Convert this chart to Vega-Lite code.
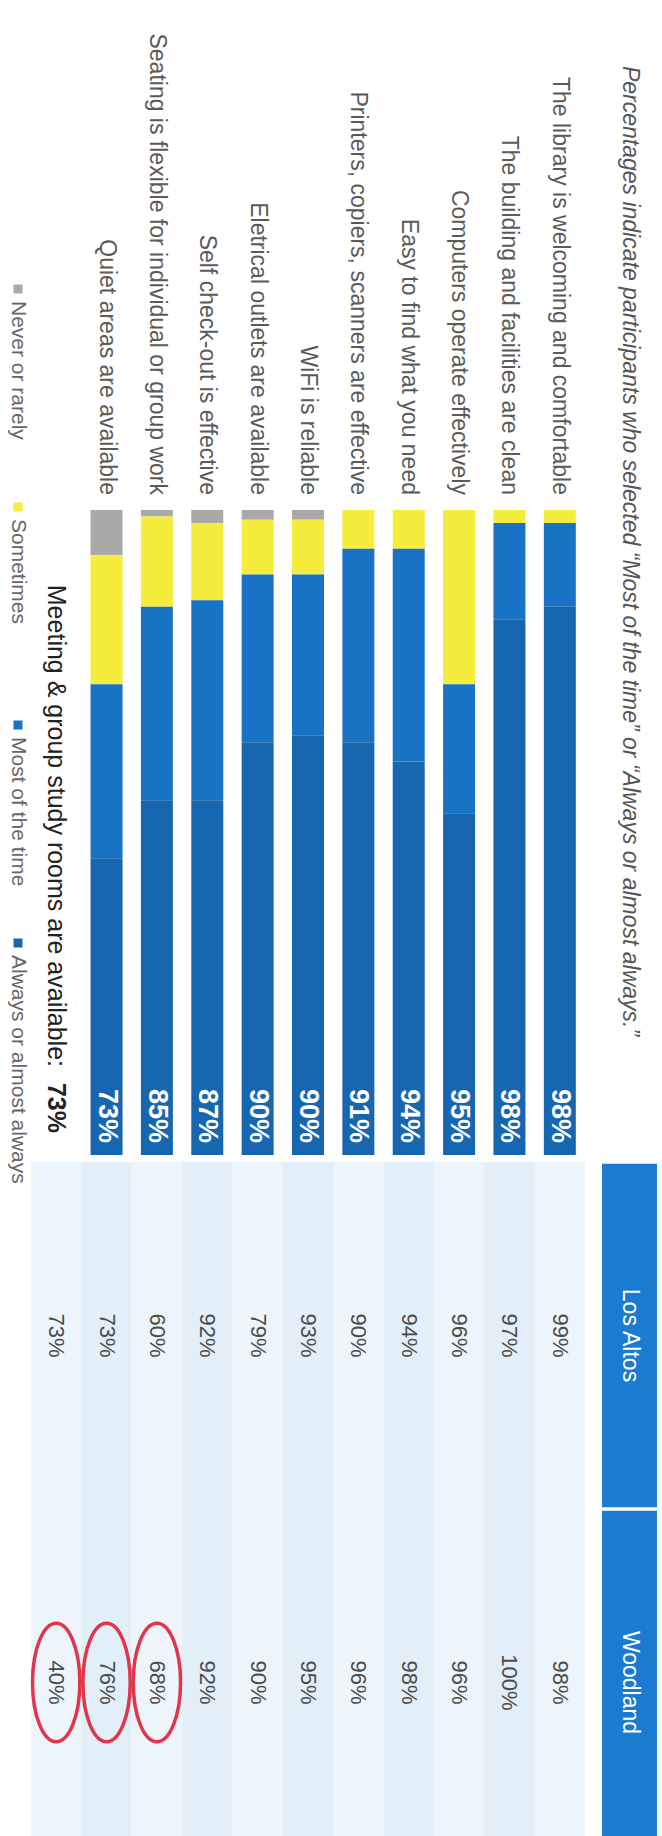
{
  "$schema": "https://vega.github.io/schema/vega-lite/v6.json",
  "width": 662,
  "height": 1836,
  "padding": 0,
  "autosize": {"type": "none"},
  "background": "white",
  "config": {"view": {"stroke": null}},
  "datasets": {
    "segments": [
      {"item": "Quiet areas are available", "response": "Never or rarely", "pct": 7, "rank": 1},
      {"item": "Quiet areas are available", "response": "Sometimes", "pct": 20, "rank": 2},
      {"item": "Quiet areas are available", "response": "Most of the time", "pct": 27, "rank": 3},
      {"item": "Quiet areas are available", "response": "Always or almost always", "pct": 46, "rank": 4},
      {"item": "Seating is flexible for individual or group work", "response": "Never or rarely", "pct": 1, "rank": 1},
      {"item": "Seating is flexible for individual or group work", "response": "Sometimes", "pct": 14, "rank": 2},
      {"item": "Seating is flexible for individual or group work", "response": "Most of the time", "pct": 30, "rank": 3},
      {"item": "Seating is flexible for individual or group work", "response": "Always or almost always", "pct": 55, "rank": 4},
      {"item": "Self check-out is effective", "response": "Never or rarely", "pct": 2, "rank": 1},
      {"item": "Self check-out is effective", "response": "Sometimes", "pct": 12, "rank": 2},
      {"item": "Self check-out is effective", "response": "Most of the time", "pct": 31, "rank": 3},
      {"item": "Self check-out is effective", "response": "Always or almost always", "pct": 55, "rank": 4},
      {"item": "Eletrical outlets are available", "response": "Never or rarely", "pct": 1.5, "rank": 1},
      {"item": "Eletrical outlets are available", "response": "Sometimes", "pct": 8.5, "rank": 2},
      {"item": "Eletrical outlets are available", "response": "Most of the time", "pct": 26, "rank": 3},
      {"item": "Eletrical outlets are available", "response": "Always or almost always", "pct": 64, "rank": 4},
      {"item": "WiFi is reliable", "response": "Never or rarely", "pct": 1.5, "rank": 1},
      {"item": "WiFi is reliable", "response": "Sometimes", "pct": 8.5, "rank": 2},
      {"item": "WiFi is reliable", "response": "Most of the time", "pct": 25, "rank": 3},
      {"item": "WiFi is reliable", "response": "Always or almost always", "pct": 65, "rank": 4},
      {"item": "Printers, copiers, scanners are effective", "response": "Never or rarely", "pct": 0, "rank": 1},
      {"item": "Printers, copiers, scanners are effective", "response": "Sometimes", "pct": 6, "rank": 2},
      {"item": "Printers, copiers, scanners are effective", "response": "Most of the time", "pct": 30, "rank": 3},
      {"item": "Printers, copiers, scanners are effective", "response": "Always or almost always", "pct": 64, "rank": 4},
      {"item": "Easy to find what you need", "response": "Never or rarely", "pct": 0, "rank": 1},
      {"item": "Easy to find what you need", "response": "Sometimes", "pct": 6, "rank": 2},
      {"item": "Easy to find what you need", "response": "Most of the time", "pct": 33, "rank": 3},
      {"item": "Easy to find what you need", "response": "Always or almost always", "pct": 61, "rank": 4},
      {"item": "Computers operate effectively", "response": "Never or rarely", "pct": 0, "rank": 1},
      {"item": "Computers operate effectively", "response": "Sometimes", "pct": 27, "rank": 2},
      {"item": "Computers operate effectively", "response": "Most of the time", "pct": 20, "rank": 3},
      {"item": "Computers operate effectively", "response": "Always or almost always", "pct": 53, "rank": 4},
      {"item": "The building and facilities are clean", "response": "Never or rarely", "pct": 0, "rank": 1},
      {"item": "The building and facilities are clean", "response": "Sometimes", "pct": 2, "rank": 2},
      {"item": "The building and facilities are clean", "response": "Most of the time", "pct": 15, "rank": 3},
      {"item": "The building and facilities are clean", "response": "Always or almost always", "pct": 83, "rank": 4},
      {"item": "The library is welcoming and comfortable", "response": "Never or rarely", "pct": 0, "rank": 1},
      {"item": "The library is welcoming and comfortable", "response": "Sometimes", "pct": 2, "rank": 2},
      {"item": "The library is welcoming and comfortable", "response": "Most of the time", "pct": 13, "rank": 3},
      {"item": "The library is welcoming and comfortable", "response": "Always or almost always", "pct": 85, "rank": 4}
    ],
    "items": [
      {"item": "Meeting & group study rooms are available:", "label": "73%"},
      {"item": "Quiet areas are available", "label": "73%"},
      {"item": "Seating is flexible for individual or group work", "label": "85%"},
      {"item": "Self check-out is effective", "label": "87%"},
      {"item": "Eletrical outlets are available", "label": "90%"},
      {"item": "WiFi is reliable", "label": "90%"},
      {"item": "Printers, copiers, scanners are effective", "label": "91%"},
      {"item": "Easy to find what you need", "label": "94%"},
      {"item": "Computers operate effectively", "label": "95%"},
      {"item": "The building and facilities are clean", "label": "98%"},
      {"item": "The library is welcoming and comfortable", "label": "98%"}
    ],
    "table": [
      {"item": "Meeting & group study rooms are available:", "site": "Los Altos", "value": "73%"},
      {"item": "Quiet areas are available", "site": "Los Altos", "value": "73%"},
      {"item": "Seating is flexible for individual or group work", "site": "Los Altos", "value": "60%"},
      {"item": "Self check-out is effective", "site": "Los Altos", "value": "92%"},
      {"item": "Eletrical outlets are available", "site": "Los Altos", "value": "79%"},
      {"item": "WiFi is reliable", "site": "Los Altos", "value": "93%"},
      {"item": "Printers, copiers, scanners are effective", "site": "Los Altos", "value": "90%"},
      {"item": "Easy to find what you need", "site": "Los Altos", "value": "94%"},
      {"item": "Computers operate effectively", "site": "Los Altos", "value": "96%"},
      {"item": "The building and facilities are clean", "site": "Los Altos", "value": "97%"},
      {"item": "The library is welcoming and comfortable", "site": "Los Altos", "value": "99%"},
      {"item": "Meeting & group study rooms are available:", "site": "Woodland", "value": "40%"},
      {"item": "Quiet areas are available", "site": "Woodland", "value": "76%"},
      {"item": "Seating is flexible for individual or group work", "site": "Woodland", "value": "68%"},
      {"item": "Self check-out is effective", "site": "Woodland", "value": "92%"},
      {"item": "Eletrical outlets are available", "site": "Woodland", "value": "90%"},
      {"item": "WiFi is reliable", "site": "Woodland", "value": "95%"},
      {"item": "Printers, copiers, scanners are effective", "site": "Woodland", "value": "96%"},
      {"item": "Easy to find what you need", "site": "Woodland", "value": "98%"},
      {"item": "Computers operate effectively", "site": "Woodland", "value": "96%"},
      {"item": "The building and facilities are clean", "site": "Woodland", "value": "100%"},
      {"item": "The library is welcoming and comfortable", "site": "Woodland", "value": "98%"}
    ],
    "sites": [{"site": "Los Altos"}, {"site": "Woodland"}],
    "legend": [
      {"response": "Never or rarely"},
      {"response": "Sometimes"},
      {"response": "Most of the time"},
      {"response": "Always or almost always"}
    ],
    "title": [
      {"text": "Percentages indicate participants who selected “Most of the time” or “Always or almost always.”"}
    ]
  },
  "layer": [
    {
      "encoding": {
        "x": {
          "field": "item", "type": "nominal", "axis": null,
          "scale": {
            "domain": ["Meeting & group study rooms are available:", "Quiet areas are available", "Seating is flexible for individual or group work", "Self check-out is effective", "Eletrical outlets are available", "WiFi is reliable", "Printers, copiers, scanners are effective", "Easy to find what you need", "Computers operate effectively", "The building and facilities are clean", "The library is welcoming and comfortable"],
            "range": [31, 585], "paddingInner": 0.365, "paddingOuter": 0.1825
          }
        }
      },
      "layer": [
        {
          "data": {"name": "segments"},
          "mark": {"type": "bar"},
          "encoding": {
            "y": {"field": "pct", "type": "quantitative", "stack": "zero", "axis": null, "scale": {"domain": [0, 100], "range": [510, 1155], "nice": false, "zero": false}},
            "color": {
              "field": "response", "type": "nominal", "legend": null,
              "scale": {"domain": ["Never or rarely", "Sometimes", "Most of the time", "Always or almost always"], "range": ["#a9a9a9", "#f5ec3b", "#1873c4", "#1666b0"]}
            },
            "order": {"field": "rank", "type": "quantitative"}
          }
        },
        {
          "data": {"name": "items"},
          "transform": [{"filter": {"not": {"field": "item", "equal": "Meeting & group study rooms are available:"}}}],
          "mark": {"type": "text", "angle": 90, "align": "right", "baseline": "middle", "dx": -12, "font": "Liberation Sans", "fontWeight": "bold", "fontSize": 27, "color": "white"},
          "encoding": {
            "y": {"datum": 100, "type": "quantitative", "axis": null, "scale": {"domain": [0, 100], "range": [510, 1155], "nice": false, "zero": false}},
            "text": {"field": "label"}
          }
        },
        {
          "data": {"name": "items"},
          "transform": [{"filter": {"not": {"field": "item", "equal": "Meeting & group study rooms are available:"}}}],
          "mark": {"type": "text", "angle": 90, "align": "right", "baseline": "middle", "dx": -15, "font": "Liberation Sans", "fontSize": 23, "color": "#5a5a5a"},
          "encoding": {
            "y": {"datum": 0, "type": "quantitative", "axis": null, "scale": {"domain": [0, 100], "range": [510, 1155], "nice": false, "zero": false}},
            "text": {"field": "item"}
          }
        },
        {
          "data": {"name": "items"},
          "transform": [{"filter": {"field": "item", "equal": "Meeting & group study rooms are available:"}}],
          "mark": {"type": "text", "angle": 90, "align": "right", "baseline": "middle", "dx": -88, "font": "Liberation Sans", "fontSize": 25, "color": "#222222"},
          "encoding": {
            "y": {"datum": 100, "type": "quantitative", "axis": null, "scale": {"domain": [0, 100], "range": [510, 1155], "nice": false, "zero": false}},
            "text": {"field": "item"}
          }
        },
        {
          "data": {"name": "items"},
          "transform": [{"filter": {"field": "item", "equal": "Meeting & group study rooms are available:"}}],
          "mark": {"type": "text", "angle": 90, "align": "right", "baseline": "middle", "dx": -22, "font": "Liberation Sans", "fontWeight": "bold", "fontSize": 25, "color": "#222222"},
          "encoding": {
            "y": {"datum": 100, "type": "quantitative", "axis": null, "scale": {"domain": [0, 100], "range": [510, 1155], "nice": false, "zero": false}},
            "text": {"field": "label"}
          }
        }
      ]
    },
    {
      "data": {"name": "table"},
      "encoding": {
        "x": {
          "field": "item", "type": "nominal", "axis": null,
          "scale": {
            "domain": ["Meeting & group study rooms are available:", "Quiet areas are available", "Seating is flexible for individual or group work", "Self check-out is effective", "Eletrical outlets are available", "WiFi is reliable", "Printers, copiers, scanners are effective", "Easy to find what you need", "Computers operate effectively", "The building and facilities are clean", "The library is welcoming and comfortable"],
            "range": [31, 585], "paddingInner": 0, "paddingOuter": 0
          }
        },
        "y": {"field": "site", "type": "nominal", "axis": null, "scale": {"domain": ["Los Altos", "Woodland"], "range": [1162, 1856], "paddingInner": 0, "paddingOuter": 0}}
      },
      "layer": [
        {
          "mark": {"type": "rect"},
          "encoding": {
            "color": {
              "field": "item", "type": "nominal", "legend": null,
              "scale": {
                "domain": ["Meeting & group study rooms are available:", "Quiet areas are available", "Seating is flexible for individual or group work", "Self check-out is effective", "Eletrical outlets are available", "WiFi is reliable", "Printers, copiers, scanners are effective", "Easy to find what you need", "Computers operate effectively", "The building and facilities are clean", "The library is welcoming and comfortable"],
                "range": ["#edf5fb", "#e3eff8", "#edf5fb", "#e3eff8", "#edf5fb", "#e3eff8", "#edf5fb", "#e3eff8", "#edf5fb", "#e3eff8", "#edf5fb"]
              }
            }
          }
        },
        {
          "mark": {"type": "text", "angle": 90, "align": "center", "baseline": "middle", "font": "Liberation Sans", "fontSize": 22, "color": "#4a4a4a"},
          "encoding": {"text": {"field": "value"}}
        },
        {
          "transform": [{"filter": {"and": [{"field": "site", "equal": "Woodland"}, {"field": "item", "oneOf": ["Meeting & group study rooms are available:", "Quiet areas are available", "Seating is flexible for individual or group work"]}]}}],
          "mark": {"type": "point", "shape": "M0,-1A0.4,1 0 1,1 0,1A0.4,1 0 1,1 0,-1Z", "size": 14000, "filled": false, "stroke": "#e2354b", "strokeWidth": 3.5, "opacity": 1}
        }
      ]
    },
    {
      "data": {"name": "sites"},
      "encoding": {
        "x": {"datum": "header", "type": "nominal", "axis": null, "scale": {"domain": ["header"], "range": [602, 657], "paddingInner": 0, "paddingOuter": 0}},
        "y": {"field": "site", "type": "nominal", "axis": null, "scale": {"domain": ["Los Altos", "Woodland"], "range": [1162, 1856], "paddingInner": 0.01, "paddingOuter": 0.005}}
      },
      "layer": [
        {"mark": {"type": "rect", "color": "#1b7bd0"}},
        {
          "mark": {"type": "text", "angle": 90, "align": "center", "baseline": "middle", "font": "Liberation Sans", "fontSize": 23, "color": "white"},
          "encoding": {"text": {"field": "site"}}
        }
      ]
    },
    {
      "data": {"name": "title"},
      "mark": {"type": "text", "angle": 90, "align": "center", "baseline": "middle", "font": "Liberation Sans", "fontStyle": "italic", "fontSize": 23, "color": "#555555"},
      "encoding": {
        "x": {"datum": "title", "type": "nominal", "axis": null, "scale": {"domain": ["title"], "range": [605, 655], "paddingInner": 0, "paddingOuter": 0}},
        "y": {"datum": "title", "type": "nominal", "axis": null, "scale": {"domain": ["title"], "range": [55, 1047], "paddingInner": 0, "paddingOuter": 0}},
        "text": {"field": "text"}
      }
    },
    {
      "data": {"name": "legend"},
      "encoding": {
        "x": {"datum": "legend", "type": "nominal", "axis": null, "scale": {"domain": ["legend"], "range": [5, 31], "paddingInner": 0, "paddingOuter": 0}},
        "y": {"field": "response", "type": "nominal", "bandPosition": 0, "axis": null, "scale": {"domain": ["Never or rarely", "Sometimes", "Most of the time", "Always or almost always"], "range": [180, 1052], "paddingInner": 0, "paddingOuter": 0}}
      },
      "layer": [
        {
          "mark": {"type": "point", "shape": "square", "size": 81, "filled": true, "opacity": 1},
          "encoding": {
            "color": {"field": "response", "type": "nominal", "legend": null, "scale": {"domain": ["Never or rarely", "Sometimes", "Most of the time", "Always or almost always"], "range": ["#a9a9a9", "#f5ec3b", "#1873c4", "#1666b0"]}}
          }
        },
        {
          "mark": {"type": "text", "angle": 90, "align": "left", "baseline": "middle", "dx": 12, "font": "Liberation Sans", "fontSize": 21, "color": "#666666"},
          "encoding": {"text": {"field": "response"}}
        }
      ]
    }
  ],
  "resolve": {"scale": {"x": "independent", "y": "independent", "color": "independent"}}
}
